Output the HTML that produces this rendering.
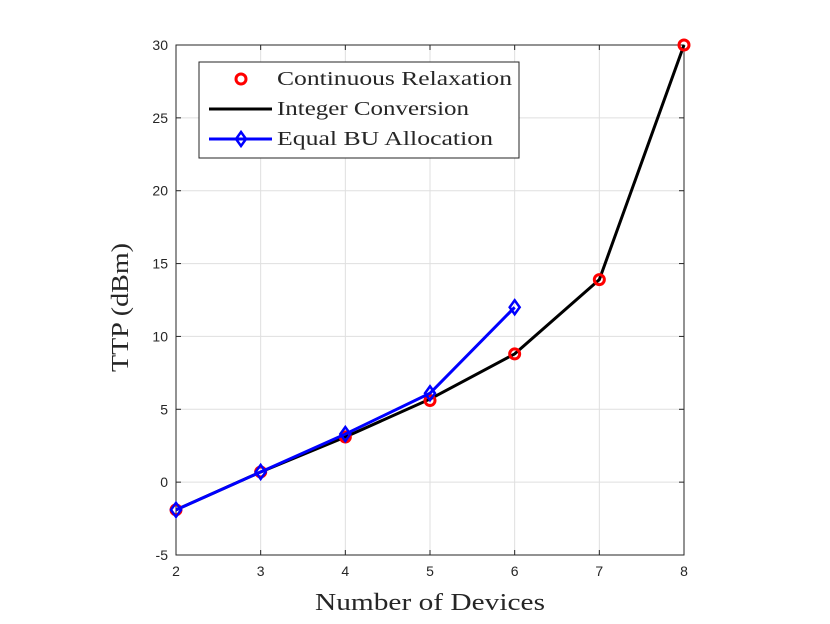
<!DOCTYPE html>
<html><head><meta charset="utf-8"><style>
body{margin:0;background:#fff}
svg{display:block}
.t{font-family:"Liberation Sans",sans-serif;font-size:14px;fill:#262626}
.s{font-family:"Liberation Serif",serif;fill:#262626}
</style></head><body>
<svg id="c" width="830" height="624" xmlns="http://www.w3.org/2000/svg"></svg>
<script>
const xCats=[2,3,4,5,6,7,8];
const yTicks=[-5,0,5,10,15,20,25,30];
const contVals=[-1.9,0.7,3.1,5.6,8.8,13.9,30];
const intVals=[-1.9,0.7,3.1,5.7,8.8,13.9,30];
const eqX=[2,3,4,5,6];
const eqVals=[-1.9,0.7,3.3,6.1,12.0];
const L=176,R=684,T=45,B=555;
const xs=v=>L+(v-2)/(8-2)*(R-L);
const ys=v=>B-(v+5)/35*(B-T);
const svg=document.getElementById('c');
const NS='http://www.w3.org/2000/svg';
function mk(tag,at,parent){const e=document.createElementNS(NS,tag);for(const k in at)e.setAttribute(k,at[k]);(parent||svg).appendChild(e);return e;}
let e;
e=mk('rect',{x:L,y:T,width:R-L,height:B-T,fill:'#fff'});


xCats.forEach(v=>{
 e=mk('line',{x1:xs(v),x2:xs(v),y1:T,y2:B,stroke:'#dfdfdf','stroke-width':1});
 
 
 mk('line',{x1:xs(v),x2:xs(v),y1:B,y2:B-5,stroke:'#262626'});
 mk('line',{x1:xs(v),x2:xs(v),y1:T,y2:T+5,stroke:'#262626'});
 e=mk('text',{x:xs(v),y:B+21,'text-anchor':'middle',class:'t'});e.textContent=v;
 
 
});
yTicks.forEach(v=>{
 e=mk('line',{x1:L,x2:R,y1:ys(v),y2:ys(v),stroke:'#dfdfdf','stroke-width':1});
 
 
 mk('line',{x1:L,x2:L+5,y1:ys(v),y2:ys(v),stroke:'#262626'});
 mk('line',{x1:R,x2:R-5,y1:ys(v),y2:ys(v),stroke:'#262626'});
 e=mk('text',{x:L-8,y:ys(v)+5,'text-anchor':'end',class:'t'});e.textContent=v;
 
 
});
e=mk('rect',{x:L,y:T,width:R-L,height:B-T,fill:'none',stroke:'#262626'});


e=mk('polyline',{points:xCats.map((x,i)=>xs(x)+','+ys(intVals[i])).join(' '),fill:'none',stroke:'#000','stroke-width':3});


xCats.forEach((x,i)=>{
 e=mk('circle',{cx:xs(x),cy:ys(contVals[i]),r:5,fill:'none',stroke:'#f00','stroke-width':3});
 
 
});
e=mk('polyline',{points:eqX.map((x,i)=>xs(x)+','+ys(eqVals[i])).join(' '),fill:'none',stroke:'#00f','stroke-width':3});


function diamond(cx,cy,p){return mk('polygon',{points:`${cx},${cy-7} ${cx+5},${cy} ${cx},${cy+7} ${cx-5},${cy}`,fill:'none',stroke:'#00f','stroke-width':2.5},p);}
eqX.forEach((x,i)=>{
 e=diamond(xs(x),ys(eqVals[i]));
 
 
});
e=mk('text',{x:315,y:610,class:'s','font-size':24,textLength:230,lengthAdjust:'spacingAndGlyphs'});e.textContent='Number of Devices';


e=mk('text',{x:-372,y:0,class:'s','font-size':24,textLength:129,lengthAdjust:'spacingAndGlyphs',transform:'translate(128,0) rotate(-90)'});e.textContent='TTP (dBm)';


const lg=mk('g',{});


mk('rect',{x:199,y:62,width:320,height:96,fill:'#fff',stroke:'#262626'},lg);
mk('circle',{cx:241,cy:79,r:5,fill:'none',stroke:'#f00','stroke-width':3},lg);
mk('line',{x1:209,x2:272,y1:109,y2:109,stroke:'#000','stroke-width':3},lg);
mk('line',{x1:209,x2:272,y1:139,y2:139,stroke:'#00f','stroke-width':3},lg);
diamond(241,139,lg);
[['Continuous Relaxation',85,235],['Integer Conversion',115,192],['Equal BU Allocation',145,216]].forEach(([t,y,w])=>{
 e=mk('text',{x:277,y:y,class:'s','font-size':20,fill:'#000',textLength:w,lengthAdjust:'spacingAndGlyphs'},lg);e.textContent=t;
 
 
});
</script>
</body></html>
